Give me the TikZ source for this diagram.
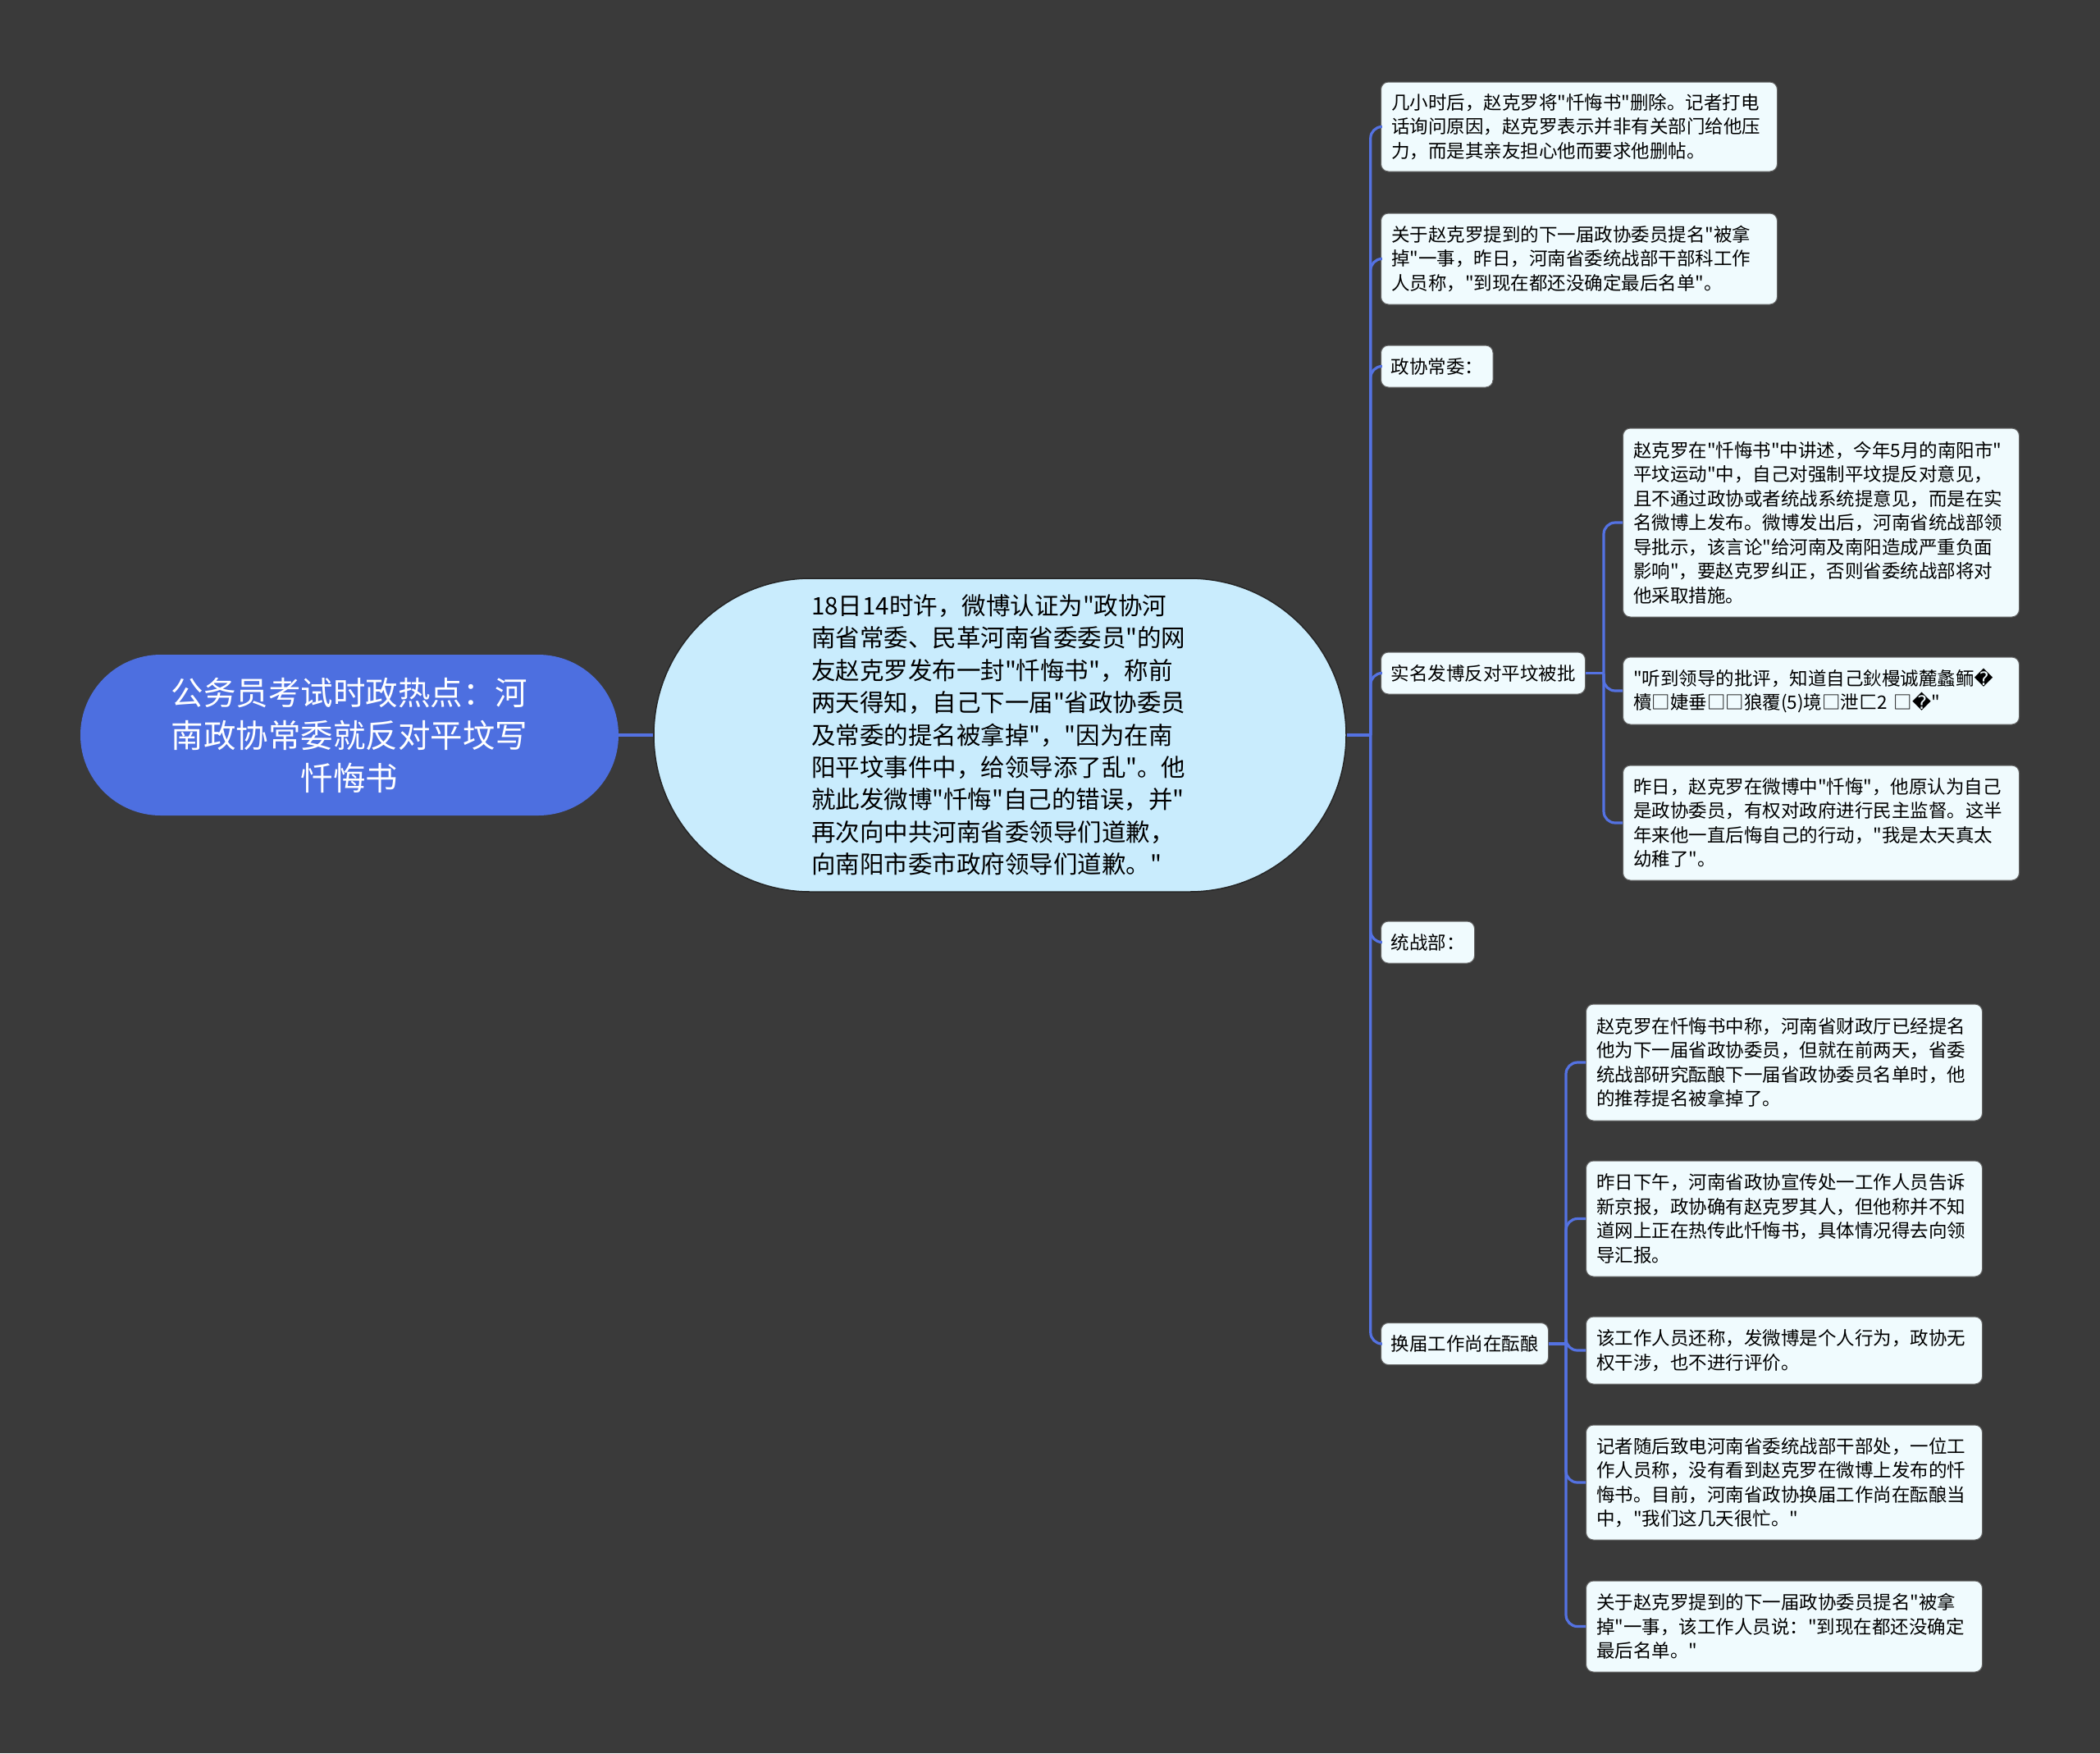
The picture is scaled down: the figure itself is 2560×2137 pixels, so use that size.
\documentclass[tikz,border=0pt]{standalone}
\usepackage{fontspec}
\newfontfamily\cjkfont{Noto Sans CJK SC}
\newfontfamily\symfont{DejaVu Sans}
\definecolor{mmbg}{RGB}{58,58,58}
\definecolor{mmroot}{RGB}{77,111,224}
\definecolor{mmmain}{RGB}{201,236,253}
\definecolor{mmleaf}{RGB}{240,251,254}
\definecolor{mmlink}{RGB}{84,114,226}
\tikzset{
  rootbox/.style={rectangle, rounded corners=98pt, fill=mmroot, text=white,
                  minimum width=656pt, minimum height=196pt, align=center,
                  font=\cjkfont\fontsize{39.5}{52}\selectfont},
  mainbox/.style={rectangle, rounded corners=191pt, draw=black!85, line width=1.5pt,
                  fill=mmmain, minimum width=844pt, minimum height=382pt,
                  text width=460pt, align=left, font=\cjkfont\fontsize{29.5}{39.4}\selectfont},
  tagbox/.style={rectangle, rounded corners=9pt, draw=black!60, line width=1pt,
                 fill=mmleaf, minimum height=51pt, inner xsep=12pt, anchor=west,
                 font=\cjkfont\fontsize{22.5}{29.5}\selectfont},
  leafbox/.style={tagbox, minimum height=#1, text width=458pt, inner xsep=12.5pt, align=left},
  leafbox/.default=82pt,
  link/.style={draw=mmlink, line width=3.2pt, rounded corners=14pt},
}
\begin{document}
\begin{tikzpicture}[x=1pt, y=1pt]
  \fill[mmbg] (0,0) rectangle (2560,-2137);
  \useasboundingbox (0,0) rectangle (2560,-2137);

  \node[rootbox] (root) at (426,-896) {公务员考试时政热点：河\\南政协常委就反对平坟写\\忏悔书};
  \node[mainbox] (main) at (1219,-896) {18日14时许，微博认证为"政协河\\南省常委、民革河南省委委员"的网\\友赵克罗发布一封"忏悔书"，称前\\两天得知，自己下一届"省政协委员\\及常委的提名被拿掉"，"因为在南\\阳平坟事件中，给领导添了乱"。他\\就此发微博"忏悔"自己的错误，并"\\再次向中共河南省委领导们道歉，\\向南阳市委市政府领导们道歉。"};
  \draw[link] (root.east) -- (main.west);

  % second level
  \node[leafbox=109pt] (delpost) at (1683,-154.5) {几小时后，赵克罗将"忏悔书"删除。记者打电\\话询问原因，赵克罗表示并非有关部门给他压\\力，而是其亲友担心他而要求他删帖。};
  \node[leafbox=111pt] (nomask) at (1683,-315.5) {关于赵克罗提到的下一届政协委员提名"被拿\\掉"一事，昨日，河南省委统战部干部科工作\\人员称，"到现在都还没确定最后名单"。};
  \node[tagbox] (cppcc) at (1683,-446.5) {政协常委：};
  \node[tagbox] (weibo) at (1683,-820.5) {实名发博反对平坟被批};
  \node[tagbox] (ufwd) at (1683,-1148.5) {统战部：};
  \node[tagbox] (reelect) at (1683,-1638) {换届工作尚在酝酿};

  \coordinate (mainhub) at ([xshift=29pt]main.east);
  \draw[link] (main.east) -- (mainhub);
  \foreach \n in {delpost, nomask, cppcc, weibo, ufwd, reelect}
    \draw[link] (mainhub) |- (\n.west);

  % under weibo
  \node[leafbox=230pt] (critique) at (1978,-637) {赵克罗在"忏悔书"中讲述，今年5月的南阳市"\\平坟运动"中，自己对强制平坟提反对意见，\\且不通过政协或者统战系统提意见，而是在实\\名微博上发布。微博发出后，河南省统战部领\\导批示，该言论"给河南及南阳造成严重负面\\影响"，要赵克罗纠正，否则省委统战部将对\\他采取措施。};
  \node[leafbox=82pt] (garbled) at (1978,-842) {"听到领导的批评，知道自己鈥槾诚麓蠡鲕{\symfont �}\\櫝□婕垂□□狼覆(5)境□泄匚2 □{\symfont �}"};
  \node[leafbox=140pt] (regret) at (1978,-1003) {昨日，赵克罗在微博中"忏悔"，他原认为自己\\是政协委员，有权对政府进行民主监督。这半\\年来他一直后悔自己的行动，"我是太天真太\\幼稚了"。};

  \coordinate (weibohub) at ([xshift=22pt]weibo.east);
  \draw[link] (weibo.east) -- (weibohub);
  \foreach \n in {critique, garbled, regret}
    \draw[link] (weibohub) |- (\n.west);

  % under reelect
  \node[leafbox=142pt] (nominated) at (1933,-1295) {赵克罗在忏悔书中称，河南省财政厅已经提名\\他为下一届省政协委员，但就在前两天，省委\\统战部研究酝酿下一届省政协委员名单时，他\\的推荐提名被拿掉了。};
  \node[leafbox=141pt] (xinjing) at (1933,-1485.5) {昨日下午，河南省政协宣传处一工作人员告诉\\新京报，政协确有赵克罗其人，但他称并不知\\道网上正在热传此忏悔书，具体情况得去向领\\导汇报。};
  \node[leafbox=82pt] (noright) at (1933,-1646) {该工作人员还称，发微博是个人行为，政协无\\权干涉，也不进行评价。};
  \node[leafbox=140pt] (callufwd) at (1933,-1807) {记者随后致电河南省委统战部干部处，一位工\\作人员称，没有看到赵克罗在微博上发布的忏\\悔书。目前，河南省政协换届工作尚在酝酿当\\中，"我们这几天很忙。"};
  \node[leafbox=111pt] (nolist) at (1933,-1982.5) {关于赵克罗提到的下一届政协委员提名"被拿\\掉"一事，该工作人员说："到现在都还没确定\\最后名单。"};

  \coordinate (reelecthub) at ([xshift=21pt]reelect.east);
  \draw[link] (reelect.east) -- (reelecthub);
  \foreach \n in {nominated, xinjing, noright, callufwd, nolist}
    \draw[link] (reelecthub) |- (\n.west);
\end{tikzpicture}
\end{document}
